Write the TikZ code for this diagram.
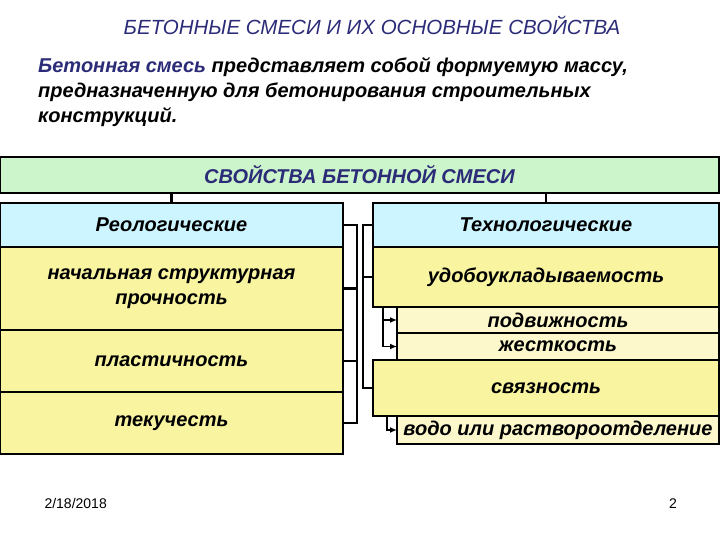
\documentclass[tikz,border=0pt]{standalone}
\usepackage{fontspec}
\setmainfont{Liberation Sans}
\usetikzlibrary{positioning, arrows.meta}
\definecolor{navy}{HTML}{2B2B78}
\definecolor{mint}{HTML}{CCF5CC}
\definecolor{sky}{HTML}{CCF5FF}
\definecolor{straw}{HTML}{F8F4A0}
\definecolor{cream}{HTML}{FCF8CC}

\begin{document}
\begin{tikzpicture}[x=1pt, y=-1pt,
  box/.style={draw, line width=2.2pt, inner sep=0pt, outer sep=0pt, anchor=north west,
    align=center, font=\fontsize{20}{25}\selectfont\bfseries\itshape},
  conn/.style={line width=2.4pt},
  sub/.style={line width=1.8pt, -{Latex[length=7pt, width=6pt]}}]
  \useasboundingbox (0,0) rectangle (720,540);
  % title
  \node[text=navy, font=\fontsize{20.5}{24}\selectfont\itshape] (title) at (372,25)
    {БЕТОННЫЕ СМЕСИ И ИХ ОСНОВНЫЕ СВОЙСТВА};
  % definition
  \node[anchor=north west, align=left, inner sep=0pt,
    font=\fontsize{20}{25}\selectfont\bfseries\itshape] (def) at (38,57)
    {\textcolor{navy}{Бетонная смесь} представляет собой формуемую массу,\\
     предназначенную для бетонирования строительных\\
     конструкций.};
  % main box
  \node[box, fill=mint, text=navy, minimum width=719, minimum height=36] (props) at (0,157)
    {СВОЙСТВА БЕТОННОЙ СМЕСИ};
  % left column
  \node[box, fill=sky, minimum width=343, minimum height=44] (rheo) at (0,203) {Реологические};
  \node[box, fill=straw, minimum width=343, minimum height=83] (strength) at (0,247)
    {начальная структурная\\прочность};
  \node[box, fill=straw, minimum width=343, minimum height=62] (plast) at (0,330) {пластичность};
  \node[box, fill=straw, minimum width=343, minimum height=62] (flow) at (0,392) {текучесть};
  % right column
  \node[box, fill=sky, minimum width=346, minimum height=44] (tech) at (373,203) {Технологические};
  \node[box, fill=straw, minimum width=346, minimum height=60] (work) at (373,247) {удобоукладываемость};
  \node[box, fill=cream, minimum width=322, minimum height=26] (mobil) at (397,307) {подвижность};
  \node[box, fill=cream, minimum width=322, minimum height=27] (stiff) at (397,333) {жесткость};
  \node[box, fill=straw, minimum width=346, minimum height=56] (cohes) at (373,360) {связность};
  \node[box, fill=cream, minimum width=322, minimum height=28] (water) at (397,416)
    {водо или раствороотделение};
  % connectors from main box
  \draw[conn] (props.south -| rheo.north) -- (rheo.north);
  \draw[conn] (props.south -| tech.north) -- (tech.north);
  % left bracket
  \draw[conn] (rheo.east) -- ++(14,0) |- (flow.east);
  \draw[conn] (strength.east) -- ++(14,0);
  \draw[conn] (plast.east) -- ++(14,0);
  % right bracket
  \draw[conn] (tech.west) -- ++(-10,0) |- (cohes.west);
  \draw[conn] (work.west) -- ++(-10,0);
  % sub arrows
  \draw[sub] ([xshift=10pt]work.south west) |- (mobil.west);
  \draw[sub] ([xshift=10pt]work.south west) |- (stiff.west);
  \draw[sub] ([xshift=14pt]cohes.south west) |- (water.west);
  % footer
  \node[anchor=base west, font=\fontsize{14}{16}\selectfont] (date) at (41,508) {2/18/2018};
  \node[anchor=base, font=\fontsize{14}{16}\selectfont] (page) at (673,508) {2};
\end{tikzpicture}
\end{document}
